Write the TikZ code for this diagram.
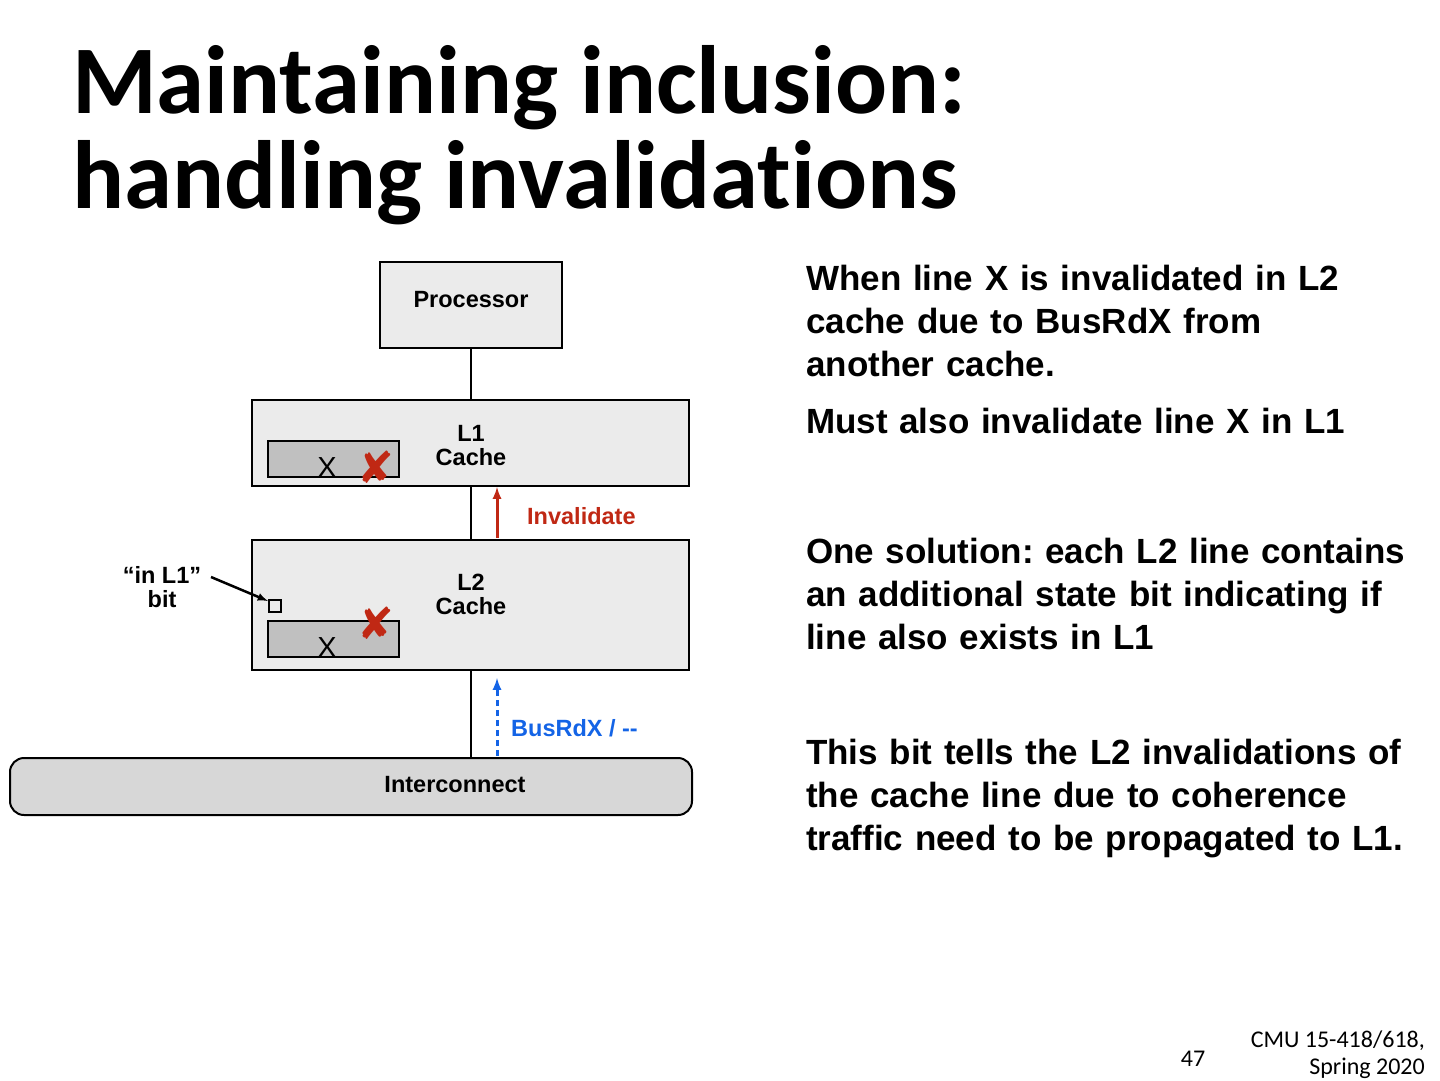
\documentclass[tikz,border=0pt]{standalone}
\usepackage{fontspec}
\setmainfont{Liberation Sans}
\newfontfamily\titlefont[Ligatures=NoCommon]{Carlito}
\newfontfamily\symfont{DejaVu Sans}
\definecolor{boxgray}{RGB}{235,235,235}
\definecolor{linegray}{RGB}{192,192,192}
\definecolor{icgray}{RGB}{215,215,215}
\definecolor{invred}{RGB}{192,40,20}
\definecolor{busblue}{RGB}{20,100,230}
\frenchspacing
\begin{document}
\begin{tikzpicture}[x=1pt,y=-1pt,
  blk/.style={draw=black,line width=2pt,fill=boxgray},
  cline/.style={draw=black,line width=2pt,fill=linegray},
  lbl/.style={font=\fontsize{23.5}{24}\selectfont\bfseries,align=center,inner sep=0pt},
  body/.style={font=\fontsize{35}{43}\selectfont\bfseries,align=left,anchor=north west,inner sep=0pt,text width=640pt},
  ttl/.style={anchor=base west,inner sep=0pt,font=\titlefont\fontsize{97}{96}\selectfont\bfseries},
  cross/.style={text=invred,font=\symfont\fontsize{44}{44}\selectfont\bfseries,inner sep=0pt}]
\useasboundingbox (0,0) rectangle (1440,1080);
\node[ttl] (title1) at (72,113) {Maintaining inclusion:};
\node[ttl] (title2) at (72,208) {handling invalidations};
% boxes
\draw[blk] (380,262) rectangle (562,348);
\node[lbl] (proc) at (471,300) {Processor};
\draw[blk] (252,400) rectangle (689,486);
\node[lbl] (l1) at (471,446) {L1\\Cache};
\draw[blk] (252,540) rectangle (689,670);
\node[lbl] (l2) at (471,594) {L2\\Cache};
\draw[cline] (268,441) rectangle (399,477);
\draw[cline] (268,621) rectangle (399,657);
\node[font=\fontsize{29}{29}\selectfont,anchor=base,inner sep=0pt] (x1) at (327,477) {X};
\node[font=\fontsize{29}{29}\selectfont,anchor=base,inner sep=0pt] (x2) at (327,657) {X};
\node[cross] (c1) at (376,467) {✘};
\node[cross] (c2) at (376,623) {✘};
\draw[line width=1.5pt] (269,600) rectangle (281,612);
\coordinate (bit) at (268,601);
\node[lbl] (inl1) at (162,587) {“in L1”\\bit};
\draw[line width=2.5pt,-latex] (211,577) -- (bit);
\draw[fill=icgray,line width=2pt,rounded corners=14pt] (10,758) rectangle (692,815);
\node[lbl] (ic) at (455,785) {Interconnect};
% connectors
\coordinate (pb) at (471,348); \coordinate (l1t) at (471,400);
\coordinate (l1b) at (471,486); \coordinate (l2t) at (471,540);
\coordinate (l2b) at (471,670); \coordinate (ict) at (471,758);
\draw[line width=2pt] (pb) -- (l1t);
\draw[line width=2pt] (l1b) -- (l2t);
\draw[line width=2pt] (l2b) -- (ict);
\coordinate (ra) at (497,538); \coordinate (rb) at (497,487);
\draw[invred,line width=3pt,-latex] (ra) -- (rb);
\node[lbl,text=invred,anchor=west] (inv) at (527,516) {Invalidate};
\coordinate (ba) at (497,756); \coordinate (bb) at (497,678);
\draw[busblue,line width=3pt,dash pattern=on 6pt off 4pt,-latex] (ba) -- (bb);
\node[lbl,text=busblue,anchor=west] (bus) at (511,728) {BusRdX / -{}-};
% body text
\node[body] (t1) at (806,265) {When line X is invalidated in L2\\cache due to BusRdX from\\another cache.};
\node[body] (t2) at (806,408) {Must also invalidate line X in L1};
\node[body] (t3) at (806,538) {One solution: each L2 line contains\\an additional state bit indicating if\\line also exists in L1};
\node[body] (t4) at (806,739) {This bit tells the L2 invalidations of\\the cache line due to coherence\\traffic need to be propagated to L1.};
\node[anchor=base,inner sep=0pt,font=\titlefont\fontsize{24}{27}\selectfont] (pg) at (1193,1066) {47};
\node[anchor=north east,inner sep=0pt,align=right,font=\titlefont\fontsize{24}{27}\selectfont] (cmu) at (1425,1031) {CMU 15-418/618,\\Spring 2020};
\end{tikzpicture}
\end{document}
